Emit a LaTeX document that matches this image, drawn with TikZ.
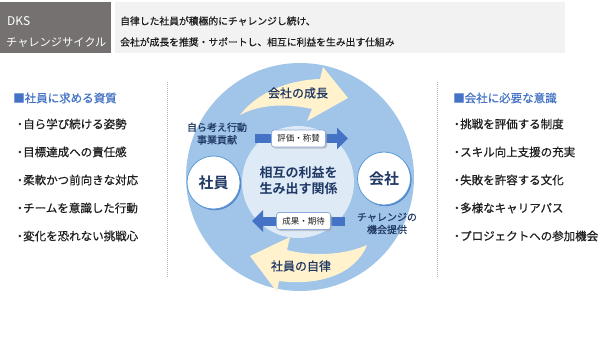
\documentclass[tikz,border=0pt]{standalone}
\usepackage{fontspec}
\setmainfont{Noto Sans CJK JP}[BoldFont={Noto Sans CJK JP Bold}]
\newfontfamily\mediumjp{Noto Sans CJK JP}[FakeBold=0.6]
\usetikzlibrary{arrows.meta,shadows}
\definecolor{hdark}{RGB}{118,113,113}
\definecolor{hlight}{RGB}{242,242,242}
\definecolor{ring}{RGB}{160,197,232}
\definecolor{innerc}{RGB}{222,235,247}
\definecolor{navy}{RGB}{31,56,100}
\definecolor{ablue}{RGB}{68,114,196}
\definecolor{cream}{RGB}{255,242,204}
\definecolor{txt}{RGB}{30,30,30}
\definecolor{sepc}{RGB}{180,180,180}
\definecolor{lblborder}{RGB}{143,170,220}
\definecolor{rimblue}{RGB}{91,155,213}
\newcommand{\dotitem}{・\kern-2.5pt}
\begin{document}
\begin{tikzpicture}[x=1pt,y=-1pt,
  lefttext/.style={anchor=west,inner sep=0pt},
  headtxt/.style={lefttext,white,font=\fontsize{11.2}{13}\selectfont},
  subtxt/.style={lefttext,txt,font=\mediumjp\fontsize{9.8}{11}\selectfont},
  listhead/.style={lefttext,ablue,font=\mediumjp\fontsize{11.5}{13}\selectfont},
  listitem/.style={lefttext,txt,font=\mediumjp\fontsize{11.5}{13}\selectfont},
  sepline/.style={sepc,line width=1pt,dash pattern=on 1pt off 1pt},
  bluearrow/.style={ablue,line width=9pt,-{Triangle[length=11pt,width=21pt]}},
  lbl/.style={draw=lblborder,fill=white,rounded corners=2.5pt,line width=0.8pt,
     minimum width=54pt,minimum height=17pt,inner sep=1pt,text=txt,
     font=\fontsize{8.5}{10}\selectfont,
     drop shadow={shadow xshift=1.5pt,shadow yshift=-1.5pt,fill=black!35,opacity=0.6}},
  actor/.style={circle,draw=rimblue,line width=0.8pt,fill=white,minimum size=53pt,
     text=navy,font=\bfseries\fontsize{15}{17}\selectfont,
     drop shadow={shadow xshift=1.2pt,shadow yshift=-1.2pt,fill=ablue,opacity=0.8}},
  note/.style={text=navy,align=center,inner sep=0pt,font=\mediumjp\fontsize{10}{12.5}\selectfont},
  yarrowtxt/.style={text=navy,inner sep=0pt,font=\mediumjp\fontsize{12}{14}\selectfont}
]
\useasboundingbox (0,0) rectangle (607,341);
% header
\fill[hdark] (0,2) rectangle (111,53);
\fill[hlight] (115,2) rectangle (565,53);
\node[headtxt,font=\fontsize{12}{13}\selectfont] (dks) at (7,21) {DKS};
\node[headtxt] (cyc) at (6,42) {チャレンジサイクル};
\node[subtxt] (h1) at (120,21) {自律した社員が積極的にチャレンジし続け、};
\node[subtxt] (h2) at (120,42) {会社が成長を推奨・サポートし、相互に利益を生み出す仕組み};
% separators
\coordinate (s1a) at (167,82); \coordinate (s1b) at (167,278);
\coordinate (s2a) at (437,82); \coordinate (s2b) at (437,278);
\draw[sepline] (s1a) -- (s1b);
\draw[sepline] (s2a) -- (s2b);
% lists
\node[listhead] (lh) at (13,98) {■社員に求める資質};
\node[listitem] (l1) at (14,124) {\dotitem 自ら学び続ける姿勢};
\node[listitem] (l2) at (14,152) {\dotitem 目標達成への責任感};
\node[listitem] (l3) at (14,180) {\dotitem 柔軟かつ前向きな対応};
\node[listitem] (l4) at (14,208) {\dotitem チームを意識した行動};
\node[listitem] (l5) at (14,236) {\dotitem 変化を恐れない挑戦心};
\node[listhead] (rh) at (453,98) {■会社に必要な意識};
\node[listitem] (r1) at (451,124) {\dotitem 挑戦を評価する制度};
\node[listitem] (r2) at (451,152) {\dotitem スキル向上支援の充実};
\node[listitem] (r3) at (451,180) {\dotitem 失敗を許容する文化};
\node[listitem] (r4) at (451,208) {\dotitem 多様なキャリアパス};
\node[listitem] (r5) at (451,236) {\dotitem プロジェクトへの参加機会};
% ring
\fill[ring] (300,177) circle (114);
\fill[innerc] (298,182) circle (56);
% yellow curved arrows
\fill[cream] (240,115) .. controls (255,95) and (285,80) .. (320,79) -- (323,67) -- (348,98)
  -- (307,121) -- (312,109) .. controls (290,104) and (262,103) .. (240,115) -- cycle;
\fill[cream] (367,245) .. controls (355,275) and (318,286) .. (279,281) -- (277,292) -- (250,256)
  -- (290,237) -- (287,250) .. controls (310,256) and (342,256) .. (367,245) -- cycle;
\node[yarrowtxt] (grow) at (298,93) {会社の成長};
\node[yarrowtxt] (auto) at (301,266) {社員の自律};
% blue arrows
\coordinate (ta1) at (255,138.5); \coordinate (ta2) at (348,138.5);
\coordinate (ba1) at (345,221); \coordinate (ba2) at (252,221);
\draw[bluearrow] (ta1) -- (ta2);
\draw[bluearrow] (ba1) -- (ba2);
\node[lbl] (eval) at (298.5,138.5) {評価・称賛};
\node[lbl] (res) at (303.5,221) {成果・期待};
% actors
\node[actor] (emp) at (213.5,182.5) {社員};
\node[actor] (co) at (384,178.5) {会社};
% center text
\node[text=navy,align=center,inner sep=0pt,font=\bfseries\fontsize{13}{16}\selectfont] (mid) at (298.5,181) {相互の利益を\\生み出す関係};
\node[note] (n1) at (217,133.5) {自ら考え行動\\事業貢献};
\node[note] (n2) at (387,223.5) {チャレンジの\\機会提供};
\end{tikzpicture}
\end{document}
